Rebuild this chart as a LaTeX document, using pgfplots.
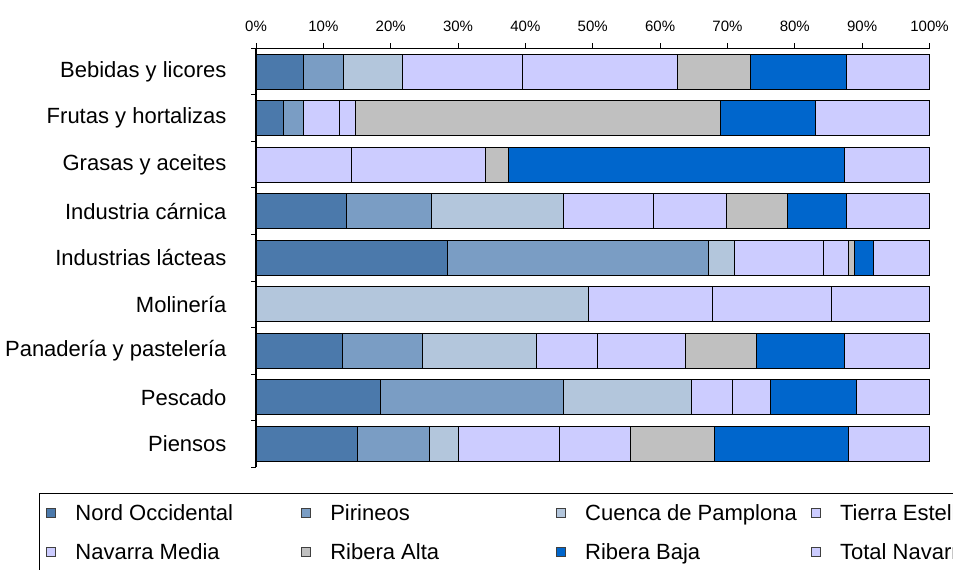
\documentclass[border=0pt]{standalone}
\usepackage{fontspec}
\setmainfont{Liberation Sans}
\usepackage{pgfplots}
\pgfplotsset{compat=1.18}
\definecolor{cNO}{RGB}{75,121,171}
\definecolor{cPI}{RGB}{122,157,196}
\definecolor{cCP}{RGB}{179,198,220}
\definecolor{cLAV}{RGB}{204,204,255}
\definecolor{cRA}{RGB}{192,192,192}
\definecolor{cRB}{RGB}{0,102,204}
\begin{document}
\begin{tikzpicture}
\useasboundingbox (0,0) rectangle (953pt,570pt);
\begin{axis}[
  at={(256pt,103pt)}, anchor=south west,
  scale only axis, width=673.5pt, height=418.7pt,
  xbar stacked, bar width=0.75,
  xmin=0, xmax=100, ymin=-0.5, ymax=8.5, y dir=reverse,
  axis x line*=top, axis y line*=left,
  clip=false,
  xtick={0,10,...,100},
  xticklabels={0\%,10\%,20\%,30\%,40\%,50\%,60\%,70\%,80\%,90\%,100\%},
  ytick={0,...,8},
  yticklabels={Bebidas y licores,Frutas y hortalizas,Grasas y aceites,Industria cárnica,Industrias lácteas,Molinería,Panadería y pastelería,Pescado,Piensos},
  minor ytick={-0.5,0.5,...,8.5},
  tick align=outside, major tick length=5pt, minor tick length=5pt,
  every major y tick/.append style={draw=none},
  every tick/.append style={black, line width=0.8pt},
  axis line style={black, line width=1.1pt},
  xticklabel style={font=\fontsize{15}{18}\selectfont, yshift=8pt},
  yticklabel style={font=\fontsize{22}{26}\selectfont, xshift=-21pt},
  /pgf/number format/assume math mode=true,
  legend columns=4,
  legend cell align=left,
  legend style={at={(-0.3218,-0.0614)}, anchor=north west, draw=black, line width=1.1pt,
    font=\fontsize{22}{26}\selectfont, inner xsep=6pt, inner ysep=9.3pt,
    /tikz/every odd column/.append style={column sep=18pt},
    /tikz/row sep=17.4pt},
  legend image code/.code={\draw[#1, draw=black!75, line width=0.6pt] (0pt,-4.5pt) rectangle (9pt,4.5pt);},
  every axis plot/.append style={draw=black, line width=0.8pt},
]
\addplot[fill=cNO] coordinates {(7.0,0) (4.0,1) (0,2) (13.4,3) (28.4,4) (0,5) (12.8,6) (18.5,7) (15.1,8)};
\addplot[fill=cPI] coordinates {(6.0,0) (3.0,1) (0,2) (12.6,3) (38.7,4) (0,5) (11.9,6) (27.1,7) (10.6,8)};
\addplot[fill=cCP] coordinates {(8.8,0) (0,1) (0,2) (19.6,3) (3.9,4) (49.3,5) (17.0,6) (19.1,7) (4.3,8)};
\addplot[fill=cLAV] coordinates {(17.8,0) (5.4,1) (14.2,2) (13.4,3) (13.3,4) (18.4,5) (9.0,6) (6.0,7) (15.0,8)};
\addplot[fill=cLAV] coordinates {(23.0,0) (2.4,1) (19.9,2) (10.8,3) (3.6,4) (17.8,5) (13.1,6) (5.7,7) (10.6,8)};
\addplot[fill=cRA] coordinates {(10.8,0) (54.1,1) (3.4,2) (9.1,3) (0.9,4) (0,5) (10.5,6) (0,7) (12.5,8)};
\addplot[fill=cRB] coordinates {(14.3,0) (14.2,1) (49.8,2) (8.8,3) (2.8,4) (0,5) (13.1,6) (12.8,7) (19.9,8)};
\addplot[fill=cLAV] coordinates {(12.3,0) (16.9,1) (12.7,2) (12.3,3) (8.4,4) (14.5,5) (12.6,6) (10.8,7) (12.0,8)};
\addlegendentry{\makebox[223.3pt][l]{Nord Occidental}}
\addlegendentry{\makebox[223.3pt][l]{Pirineos}}
\addlegendentry{\makebox[223.3pt][l]{Cuenca de Pamplona}}
\addlegendentry{\makebox[223.3pt][l]{Tierra Estella}}
\addlegendentry{\makebox[223.3pt][l]{Navarra Media}}
\addlegendentry{\makebox[223.3pt][l]{Ribera Alta}}
\addlegendentry{\makebox[223.3pt][l]{Ribera Baja}}
\addlegendentry{\makebox[223.3pt][l]{Total Navarra}}
\end{axis}
\end{tikzpicture}
\end{document}
